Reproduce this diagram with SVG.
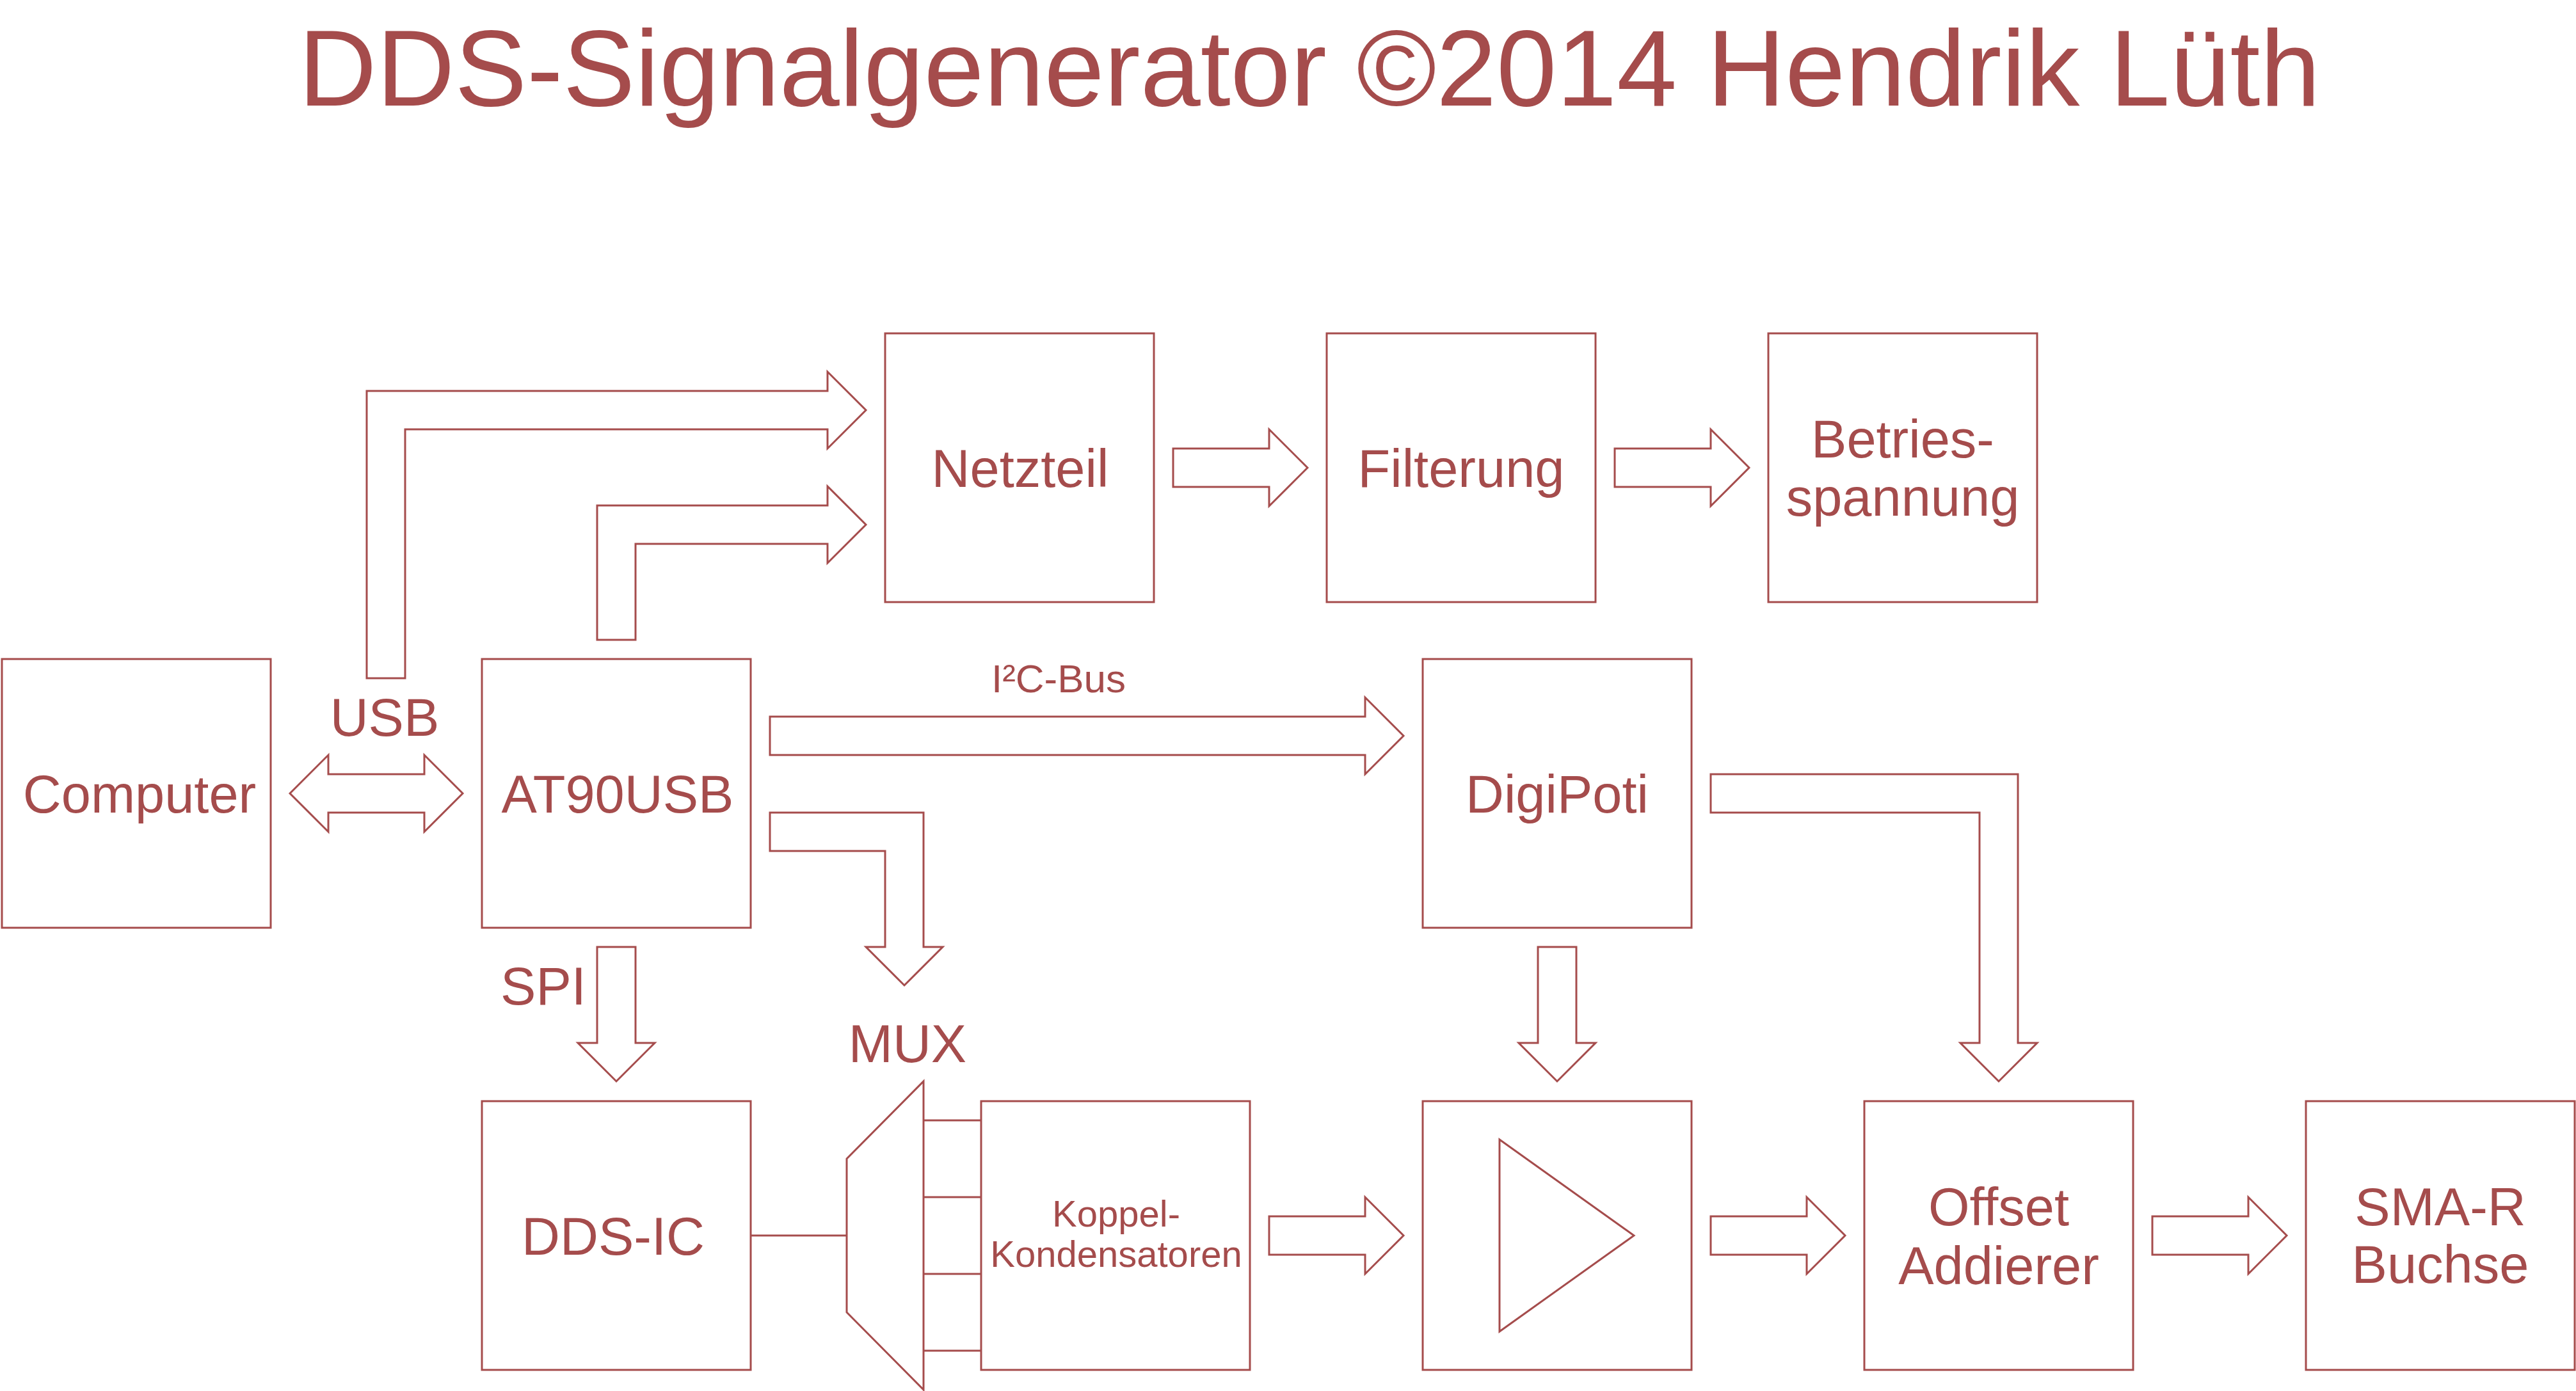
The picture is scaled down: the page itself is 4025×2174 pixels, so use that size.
<svg xmlns="http://www.w3.org/2000/svg" width="4025" height="2174" viewBox="0 0 4025 2174">
<style>
.box{fill:none;stroke:#a54c4c;stroke-width:3}
.arr{fill:#fff;stroke:#a54c4c;stroke-width:3;stroke-linejoin:miter}
.ln{fill:none;stroke:#a54c4c;stroke-width:3}
text{font-family:"Liberation Sans",Arial,sans-serif;fill:#a54c4c;text-anchor:middle}
.t{font-size:83px}
.s{font-size:58px}
.l{font-size:62px}
</style>
<rect width="4025" height="2174" fill="#fff"/>
<text x="2046" y="165" style="font-size:169px">DDS-Signalgenerator ©2014 Hendrik Lüth</text>

<g id="connectors">
<path class="arr" d="M573,1060 V611 H1293 V581 L1353,641 L1293,701 V671 H633 V1060 Z"/>
<path class="arr" d="M933,1000 V790 H1293 V760 L1353,820 L1293,880 V850 H993 V1000 Z"/>
<path class="arr" d="M453,1240 L513,1180 V1210 H663 V1180 L723,1240 L663,1300 V1270 H513 V1300 Z"/>
<path class="arr" d="M1203,1120 H2133 V1090 L2193,1150 L2133,1210 V1180 H1203 Z"/>
<path class="arr" d="M1203,1270 H1443 V1480 H1473 L1413,1540 L1353,1480 H1383 V1330 H1203 Z"/>
<path class="arr" d="M933,1480 H993 V1630 H1023 L963,1690 L903,1630 H933 Z"/>
<path class="arr" d="M2403,1480 H2463 V1630 H2493 L2433,1690 L2373,1630 H2403 Z"/>
<path class="arr" d="M2673,1210 H3153 V1630 H3183 L3123,1690 L3063,1630 H3093 V1270 H2673 Z"/>
<path class="arr" d="M1833,701 H1983 V671 L2043,731 L1983,791 V761 H1833 Z"/>
<path class="arr" d="M2523,701 H2673 V671 L2733,731 L2673,791 V761 H2523 Z"/>
<path class="arr" d="M1983,1901 H2133 V1871 L2193,1931 L2133,1991 V1961 H1983 Z"/>
<path class="arr" d="M2673,1901 H2823 V1871 L2883,1931 L2823,1991 V1961 H2673 Z"/>
<path class="arr" d="M3363,1901 H3513 V1871 L3573,1931 L3513,1991 V1961 H3363 Z"/>
<path class="ln" d="M1173,1931 H1323"/>
<path class="ln" d="M1443,1751 H1533 M1443,1871 H1533 M1443,1991 H1533 M1443,2111 H1533"/>
<text class="t" x="601" y="1150">USB</text>
<text class="l" x="1654" y="1082">I²C-Bus</text>
<text class="t" x="849" y="1570">SPI</text>
<text class="t" x="1418" y="1660">MUX</text>
</g>

<g id="computer"><rect class="box" x="3" y="1030" width="420" height="420"/><text class="t" x="218" y="1270">Computer</text></g>
<g id="at90usb"><rect class="box" x="753" y="1030" width="420" height="420"/><text class="t" x="965" y="1270">AT90USB</text></g>
<g id="netzteil"><rect class="box" x="1383" y="521" width="420" height="420"/><text class="t" x="1594" y="761">Netzteil</text></g>
<g id="filterung"><rect class="box" x="2073" y="521" width="420" height="420"/><text class="t" x="2283" y="761">Filterung</text></g>
<g id="betriebsspannung"><rect class="box" x="2763" y="521" width="420" height="420"/><text class="t" x="2973" y="715">Betries-</text><text class="t" x="2973" y="806">spannung</text></g>
<g id="digipoti"><rect class="box" x="2223" y="1030" width="420" height="420"/><text class="t" x="2433" y="1270">DigiPoti</text></g>
<g id="dds-ic"><rect class="box" x="753" y="1721" width="420" height="420"/><text class="t" x="958" y="1961">DDS-IC</text></g>
<g id="mux"><polygon class="box" points="1323,1811 1443,1690 1443,2172 1323,2051"/></g>
<g id="koppel"><rect class="box" x="1533" y="1721" width="420" height="420"/><text class="s" x="1744" y="1917">Koppel-</text><text class="s" x="1744" y="1980">Kondensatoren</text></g>
<g id="verstaerker"><rect class="box" x="2223" y="1721" width="420" height="420"/><polygon class="box" points="2343,1781 2553,1931 2343,2081"/></g>
<g id="offset"><rect class="box" x="2913" y="1721" width="420" height="420"/><text class="t" x="3123" y="1915">Offset</text><text class="t" x="3123" y="2007">Addierer</text></g>
<g id="sma"><rect class="box" x="3603" y="1721" width="420" height="420"/><text class="t" x="3813" y="1915">SMA-R</text><text class="t" x="3813" y="2005">Buchse</text></g>
</svg>
